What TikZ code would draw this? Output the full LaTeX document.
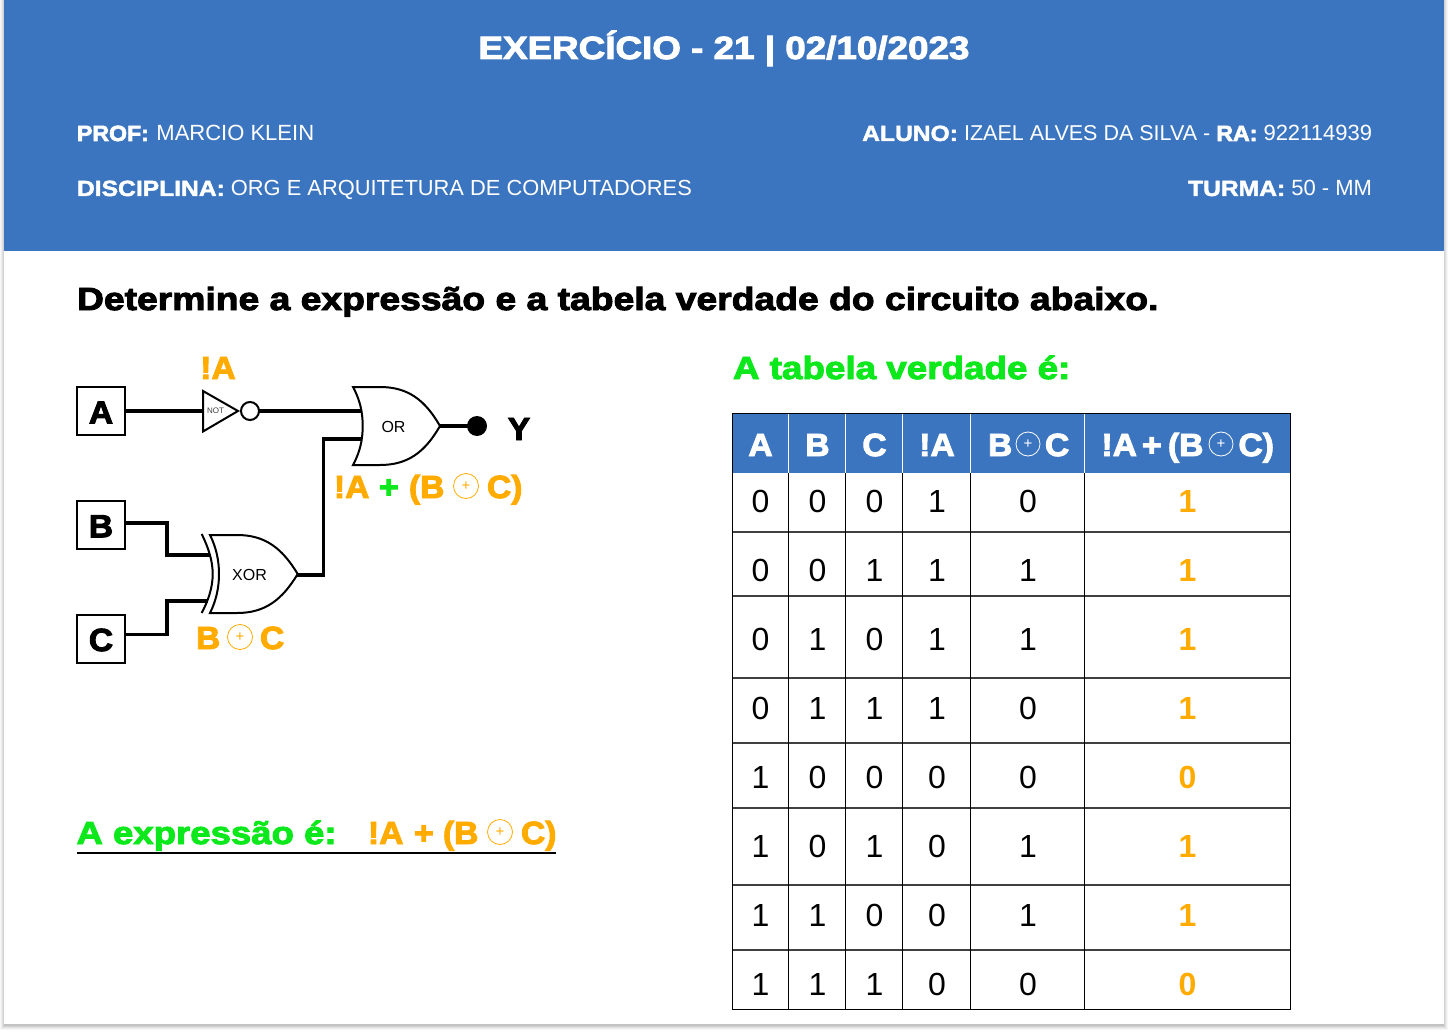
\documentclass[tikz,border=0pt]{standalone}
\usepackage{fontspec}
\setmainfont{Liberation Sans}
\newfontfamily\hv[FakeBold=3,FakeStretch=1.15]{Liberation Sans Bold}
\newfontfamily\hvq[FakeBold=3,FakeStretch=1.165]{Liberation Sans Bold}
\newfontfamily\hvs[FakeBold=2,FakeStretch=1.12]{Liberation Sans Bold}
\newfontfamily\hvl[FakeBold=3,FakeStretch=1.05]{Liberation Sans Bold}
\newfontfamily\hb{Liberation Sans Bold}
\definecolor{hdr}{HTML}{3C75BF}
\definecolor{org}{HTML}{FFAB00}
\definecolor{grn}{HTML}{0DE81C}
\newcommand{\fs}[1]{\fontsize{#1}{#1}\selectfont}
\tikzset{
  x=1pt,y=-1pt,
  txt/.style={inner sep=0pt,outer sep=0pt,anchor=base west},
  ctxt/.style={inner sep=0pt,outer sep=0pt,anchor=base},
  rtxt/.style={inner sep=0pt,outer sep=0pt,anchor=base east},
  wire/.style={line width=3.4pt,black,line cap=butt,line join=miter},
  gateline/.style={line width=2pt,black,line join=miter,fill=white},
  inbox/.style={draw=black,line width=2pt,fill=white,minimum width=47.5pt,minimum height=47.5pt,inner sep=0pt,font=\hvl\fs{32}},
  xo/.style={circle,draw=#1,line width=0.8pt,minimum size=25pt,inner sep=0pt,font=\fs{15},text=#1},
  tline/.style={line width=1pt,black},
  rline/.style={line width=2pt,black!75},
  hsep/.style={line width=1pt,white},
  cell/.style={ctxt,font=\fs{32}},
  rcell/.style={ctxt,font=\hb\fs{32},text=org},
  hcell/.style={ctxt,font=\hvl\fs{32},text=white},
}
\begin{document}
\begin{tikzpicture}
\useasboundingbox (0,0) rectangle (1448,1032);
\fill[white] (0,0) rectangle (1448,1032);
\foreach \d/\o in {4/0.03,3/0.04,2/0.05,1/0.06,0/0.07}
  \fill[black,opacity=\o] (4-\d,0) rectangle (1444+\d,1026+\d);
\fill[white] (4,0) rectangle (1444,1024);
\fill[hdr] (4,0) rectangle (1444,251);
% header
\node[ctxt,font=\hv\fs{32},text=white] (title) at (724,59) {EXERCÍCIO - 21 | 02/10/2023};
\node[txt,text=white,font=\fs{22}] (prof) at (77,141) {{\hvl PROF:}\kern1.5pt\ MARCIO KLEIN};
\node[txt,text=white,font=\fs{22}] (disc) at (77,196) {{\hvs DISCIPLINA:} {\fs{21.85}ORG E ARQUITETURA DE COMPUTADORES}};
\node[rtxt,text=white,font=\fs{22}] (aluno) at (1372,141) {{\hvs ALUNO:} {\fs{21.5}IZAEL ALVES DA SILVA -} {\hvl RA:} 922114939};
\node[rtxt,text=white,font=\fs{22}] (turma) at (1372,196) {{\hvs TURMA:} 50 - MM};
\node[txt,font=\hvq\fs{32}] (quest) at (77,310) {Determine a expressão e a tabela verdade do circuito abaixo.};
% input boxes
\node[inbox] (A) at (101,411) {\raisebox{-12.5pt}[11pt][11pt]{A}};
\node[inbox] (B) at (101,525) {\raisebox{-12.3pt}[11pt][11pt]{B}};
\node[inbox] (C) at (101,639) {\raisebox{-12pt}[11pt][11pt]{C}};
% pins
\coordinate (notin) at (203,411);
\coordinate (notout) at (259,411);
\coordinate (orinA) at (362,411);
\coordinate (orinB) at (362,439);
\coordinate (orout) at (440,426);
\coordinate (xorB) at (210,555);
\coordinate (xorC) at (208,601);
\coordinate (xorout) at (297,575);
\coordinate (Bout) at (125,523);
\coordinate (Cout) at (125,634.5);
% wires
\draw[wire] (A.east |- notin) -- (notin);
\draw[wire] (notout) -- (orinA);
\draw[wire] (Bout) -| (167,555) -- (xorB);
\draw[wire] (Cout) -| (167,601) -- (xorC);
\draw[wire] (xorout) -| (323.5,439) -- (orinB);
% NOT gate
\draw[gateline] (203,391) -- (203,431.5) -- (238,411) -- cycle;
\node[ctxt,font=\fs{8},text=black!75] (notlbl) at (215.5,413.5) {NOT};
\node[circle,draw=black,line width=2pt,fill=white,minimum size=18pt,inner sep=0pt] (bub) at (250,411) {};
% OR gate
\draw[gateline] (353,387) .. controls (360,400) and (362.7,412) .. (362.7,426)
  .. controls (362.7,440) and (360,452) .. (353,465)
  -- (380,465) .. controls (408,465) and (425,452) .. (440,426)
  .. controls (425,400) and (408,387) .. (380,387) -- cycle;
\node[ctxt,font=\fs{16}] (orlbl) at (393.5,432) {OR};
\draw[wire] (orout) -- (477,426);
\node[circle,fill=black,minimum size=20pt,inner sep=0pt] (dot) at (477,426) {};
\node[ctxt,font=\hvl\fs{32}] (Y) at (519,440) {Y};
% XOR gate
\draw[gateline] (210,535) .. controls (216,547) and (219,560) .. (219,574)
  .. controls (219,588) and (216,601) .. (210,613)
  -- (237,613) .. controls (265,613) and (282,600) .. (297.7,574)
  .. controls (282,548) and (265,535) .. (237,535) -- cycle;
\draw[line width=2pt,black] (201.7,534) .. controls (208,547) and (212.7,560) .. (212.7,574)
  .. controls (212.7,588) and (208,601) .. (201.7,613);
\node[ctxt,font=\fs{16}] (xorlbl) at (249.5,580) {XOR};
% labels
\node[ctxt,font=\hvl\fs{32},text=org] (notA) at (218,379) {!A};
\node[txt,font=\hvl\fs{32},text=org] (l1a) at (334,498) {!A};
\node[txt,font=\hvl\fs{32},text=grn] (l1b) at (379,498) {+};
\node[txt,font=\hvl\fs{32},text=org] (l1c) at (409,498) {(B};
\node[xo=org] (l1x) at (466,486) {+};
\node[txt,font=\hvl\fs{32},text=org] (l1d) at (487,498) {C)};
\node[txt,font=\hvl\fs{32},text=org] (l2a) at (196,649) {B};
\node[xo=org] (l2x) at (240,637) {+};
\node[txt,font=\hvl\fs{32},text=org] (l2b) at (260,649) {C};
\node[txt,font=\hv\fs{32},text=grn] (tabtitle) at (733,379) {A tabela verdade é:};
% expression
\node[txt,font=\hv\fs{31.8},text=grn] (expr) at (76.5,844) {A expressão é:};
\node[txt,font=\hvl\fs{32},text=org] (e1) at (368,844) {!A};
\node[txt,font=\hvl\fs{32},text=org] (e2) at (414,844) {+};
\node[txt,font=\hvl\fs{32},text=org] (e3) at (443,844) {(B};
\node[xo=org] (e4) at (500,832) {+};
\node[txt,font=\hvl\fs{32},text=org] (e5) at (521,844) {C)};
\coordinate (ula) at (77,853);
\coordinate (ulb) at (556,853);
\draw[line width=2pt,black] (ula) -- (ulb);
% table
\fill[hdr] (732,413) rectangle (1290.5,473);
\foreach \yy in {532,596,678,743,808,885,950} \draw[rline] (732,\yy) -- (1290.5,\yy);
\foreach \xx in {788.5,845.5,902.5,970.5,1084.5} {
  \draw[tline] (\xx,473) -- (\xx,1009);
  \draw[hsep] (\xx,413) -- (\xx,473);
}
\draw[tline] (732,413) rectangle (1290.5,1009);
\node[hcell] (hA) at (760.5,456) {A};
\node[hcell] (hB) at (817.5,456) {B};
\node[hcell] (hC) at (874.5,456) {C};
\node[hcell] (hNA) at (937,456) {!A};
\node[hcell,anchor=base west] (hX1) at (988,456) {B};
\node[xo=white,minimum size=24pt] (hX2) at (1028,444) {+};
\node[hcell,anchor=base west] (hX3) at (1045,456) {C};
\node[hcell,anchor=base west] (hR1) at (1101.5,456) {!A};
\node[hcell,anchor=base west] (hR2) at (1142,456) {+};
\node[hcell,anchor=base west] (hR3) at (1168,456) {(B};
\node[xo=white,minimum size=24pt] (hR4) at (1221,444) {+};
\node[hcell,anchor=base west] (hR5) at (1238.5,456) {C)};
\foreach \yy/\a/\b/\c/\n/\v/\r in {512/0/0/0/1/0/1,581/0/0/1/1/1/1,650/0/1/0/1/1/1,719/0/1/1/1/0/1,788/1/0/0/0/0/0,857/1/0/1/0/1/1,926/1/1/0/0/1/1,995/1/1/1/0/0/0} {
  \node[cell] (a\yy) at (760.5,\yy) {\a};
  \node[cell] (b\yy) at (817.5,\yy) {\b};
  \node[cell] (c\yy) at (874.5,\yy) {\c};
  \node[cell] (n\yy) at (937,\yy) {\n};
  \node[cell] (x\yy) at (1028,\yy) {\v};
  \node[rcell] (r\yy) at (1187.5,\yy) {\r};
}
\end{tikzpicture}
\end{document}
